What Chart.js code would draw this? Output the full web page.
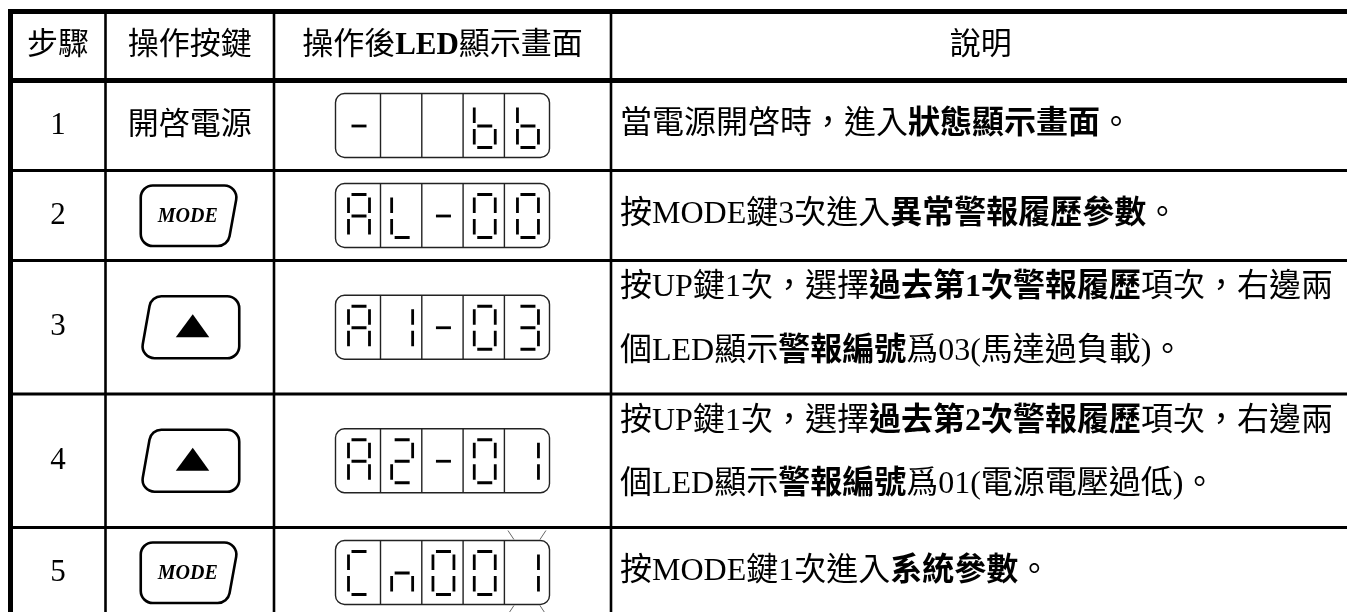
<!DOCTYPE html>
<html>
<head>
<meta charset="utf-8">
<script src="https://cdn.jsdelivr.net/npm/chart.js@4.4.1/dist/chart.umd.min.js"></script>
<style>
  html, body { margin: 0; padding: 0; background: #fff; }
  #wrap { width: 1347px; height: 612px; position: relative; }
</style>
</head>
<body>
<div id="wrap"><canvas id="stepTable"></canvas></div>
<script>
// 表格內容 (** 之間為粗體, | 為換行)
const headers = ['步驟', '操作按鍵', '操作後**LED**顯示畫面', '說明'];
const steps = ['1', '2', '3', '4', '5'];
const keys = ['開啓電源', 'MODE', 'UP', 'UP', 'MODE'];
const ledText = ['-  bb', 'AL-00', 'A1-03', 'A2-01', 'Cn001'];
const blinkDigit = [-1, -1, -1, -1, 4];
const notes = [
    '當電源開啓時，進入**狀態顯示畫面**。',
    '按MODE鍵3次進入**異常警報履歷參數**。',
    '按UP鍵1次，選擇**過去第1次警報履歷**項次，右邊兩|個LED顯示**警報編號**爲03(馬達過負載)。',
    '按UP鍵1次，選擇**過去第2次警報履歷**項次，右邊兩|個LED顯示**警報編號**爲01(電源電壓過低)。',
    '按MODE鍵1次進入**系統參數**。'
];

// 版面
const colW = [95, 168.5, 337, 739.5];
const headH = 69;
const rowBase = 90;
const rowExtra = 43.5;
const FONT = '"Liberation Serif", "Noto Sans CJK TC"';

const rowH = notes.map(n => rowBase + (n.split('|').length - 1) * rowExtra);
const xEdges = [0];
colW.forEach(w => xEdges.push(xEdges[xEdges.length - 1] + w));
const yEdges = [0, headH];
rowH.forEach(h => yEdges.push(yEdges[yEdges.length - 1] + h));

// 每一欄一個 dataset, 點在儲存格中心
const datasets = colW.map((w, c) => ({
    label: headers[c],
    data: yEdges.slice(0, -1).map((top, r) => ({
        x: (xEdges[c] + xEdges[c + 1]) / 2,
        y: (top + yEdges[r + 1]) / 2
    })),
    pointRadius: 0
}));

const SEG = {
    '-': 'g', 'b': 'cdefg', 'A': 'abcefg', 'L': 'def', '0': 'abcdef',
    '1': 'bc', '2': 'abged', '3': 'abgcd', 'C': 'adef', 'n': 'ceg', ' ': ''
};

function drawRich(ctx, text, x, y, size, align) {
    const runs = text.split('**').map((t, i) => ({
        t, font: (i % 2 ? 'bold ' : '') + size + 'px ' + FONT
    }));
    let total = 0;
    runs.forEach(r => { ctx.font = r.font; r.w = ctx.measureText(r.t).width; total += r.w; });
    let cx = align === 'center' ? x - total / 2 : x;
    ctx.textAlign = 'left';
    ctx.textBaseline = 'middle';
    runs.forEach(r => { ctx.font = r.font; ctx.fillText(r.t, cx, y); cx += r.w; });
}

function roundPoly(ctx, pts, rad) {
    ctx.beginPath();
    const n = pts.length;
    const mid = [(pts[0][0] + pts[n - 1][0]) / 2, (pts[0][1] + pts[n - 1][1]) / 2];
    ctx.moveTo(mid[0], mid[1]);
    for (let i = 0; i < n; i++) {
        const p = pts[i], q = pts[(i + 1) % n];
        ctx.arcTo(p[0], p[1], q[0], q[1], rad);
    }
    ctx.closePath();
}

function drawKey(ctx, key, cx, cy) {
    ctx.lineWidth = 2.6;
    ctx.strokeStyle = '#000';
    if (key === 'MODE') {
        roundPoly(ctx, [[cx - 49, cy - 30], [cx + 49, cy - 30], [cx + 38, cy + 30.5], [cx - 49, cy + 30.5]], 12);
        ctx.stroke();
        ctx.fillStyle = '#000';
        ctx.font = 'italic bold 20px "Liberation Serif"';
        ctx.textAlign = 'center';
        ctx.textBaseline = 'middle';
        ctx.fillText('MODE', cx - 2, cy + 1);
    } else if (key === 'UP') {
        roundPoly(ctx, [[cx - 38.5, cy - 31], [cx + 49.5, cy - 31], [cx + 49.5, cy + 31], [cx - 49.5, cy + 31]], 12);
        ctx.stroke();
        ctx.beginPath();
        ctx.moveTo(cx + 3, cy - 13);
        ctx.lineTo(cx + 19.5, cy + 10);
        ctx.lineTo(cx - 14, cy + 10);
        ctx.closePath();
        ctx.fillStyle = '#000';
        ctx.fill();
    } else {
        ctx.fillStyle = '#000';
        drawRich(ctx, key, cx, cy, 31, 'center');
    }
}

function drawLed(ctx, text, blink, cx, cy) {
    const bw = 214, bh = 64;
    const left = cx - bw / 2, top = cy - bh / 2;
    ctx.strokeStyle = '#222';
    ctx.lineWidth = 1.4;
    ctx.beginPath();
    ctx.roundRect(left, top, bw, bh, 9);
    ctx.stroke();
    const div = [45, 86.3, 127.6, 168.9];
    ctx.beginPath();
    div.forEach(d => { ctx.moveTo(left + d, top); ctx.lineTo(left + d, top + bh); });
    ctx.stroke();
    const cells = [0].concat(div, [bw]);
    const W = 21, H = 43, g = 3;
    ctx.strokeStyle = '#000';
    ctx.lineWidth = 2.8;
    ctx.lineCap = 'butt';
    for (let i = 0; i < 5; i++) {
        const dc = left + (cells[i] + cells[i + 1]) / 2 + 1;
        const x0 = dc - W / 2, y0 = top + 11;
        const segs = {
            a: [x0 + g, y0, x0 + W - g, y0],
            b: [x0 + W, y0 + g, x0 + W, y0 + H / 2 - g],
            c: [x0 + W, y0 + H / 2 + g, x0 + W, y0 + H - g],
            d: [x0 + g, y0 + H, x0 + W - g, y0 + H],
            e: [x0, y0 + H / 2 + g, x0, y0 + H - g],
            f: [x0, y0 + g, x0, y0 + H / 2 - g],
            g: [x0 + g, y0 + H / 2, x0 + W - g, y0 + H / 2]
        };
        ctx.beginPath();
        for (const s of SEG[text[i]]) {
            const p = segs[s];
            ctx.moveTo(p[0], p[1]);
            ctx.lineTo(p[2], p[3]);
        }
        ctx.stroke();
        if (i === blink) {
            const bc = left + (cells[i] + cells[i + 1]) / 2;
            ctx.save();
            ctx.strokeStyle = '#666';
            ctx.lineWidth = 1;
            ctx.beginPath();
            [[-1, top - 1, top - 10], [1, top + bh + 1, top + bh + 10]].forEach(([s, a, b]) => {
                ctx.moveTo(bc - 13, a); ctx.lineTo(bc - 19, b);
                ctx.moveTo(bc + 13, a); ctx.lineTo(bc + 19, b);
            });
            ctx.stroke();
            ctx.restore();
        }
    }
}

const tablePlugin = {
    id: 'stepTable',
    afterDatasetsDraw(chart) {
        const { ctx, scales: { x, y } } = chart;
        ctx.save();
        ctx.fillStyle = '#000';
        ctx.strokeStyle = '#000';

        // 框線
        const px = xEdges.map(v => x.getPixelForValue(v));
        const py = yEdges.map(v => y.getPixelForValue(v));
        py.forEach((yy, i) => {
            ctx.lineWidth = (i <= 1 || i === py.length - 1) ? 5 : 2.8;
            ctx.beginPath();
            ctx.moveTo(px[0] - 2.5, yy);
            ctx.lineTo(px[px.length - 1] + 2.5, yy);
            ctx.stroke();
        });
        px.forEach((xx, i) => {
            ctx.lineWidth = (i === 0 || i === px.length - 1) ? 5 : 2.6;
            ctx.beginPath();
            ctx.moveTo(xx, py[0]);
            ctx.lineTo(xx, py[py.length - 1]);
            ctx.stroke();
        });

        // 標題列
        headers.forEach((h, c) => {
            const p = chart.getDatasetMeta(c).data[0];
            ctx.fillStyle = '#000';
            drawRich(ctx, h, p.x, p.y, 31, 'center');
        });

        steps.forEach((s, r) => {
            const p0 = chart.getDatasetMeta(0).data[r + 1];
            ctx.fillStyle = '#000';
            drawRich(ctx, s, p0.x, p0.y, 31, 'center');

            const p1 = chart.getDatasetMeta(1).data[r + 1];
            drawKey(ctx, keys[r], p1.x, p1.y);

            const p2 = chart.getDatasetMeta(2).data[r + 1];
            drawLed(ctx, ledText[r], blinkDigit[r], p2.x, p2.y);

            const p3 = chart.getDatasetMeta(3).data[r + 1];
            const lines = notes[r].split('|');
            const left = px[3] + 9;
            ctx.fillStyle = '#000';
            lines.forEach((ln, i) => {
                const yy = lines.length > 1 ? p3.y - 39.5 + i * 63.5 : p3.y - 1;
                drawRich(ctx, ln, left, yy, 32, 'left');
            });
        });
        ctx.restore();
    }
};

new Chart(document.getElementById('stepTable'), {
    type: 'scatter',
    data: { datasets },
    options: {
        responsive: true,
        maintainAspectRatio: false,
        animation: false,
        events: [],
        layout: { padding: { left: 10.5, top: 11.5, right: 0, bottom: 0 } },
        scales: {
            x: { type: 'linear', display: false, min: 0, max: 1336.5 },
            y: { type: 'linear', display: false, reverse: true, min: 0, max: 600.5 }
        },
        plugins: { legend: { display: false }, tooltip: { enabled: false } }
    },
    plugins: [tablePlugin]
});
</script>
</body>
</html>
